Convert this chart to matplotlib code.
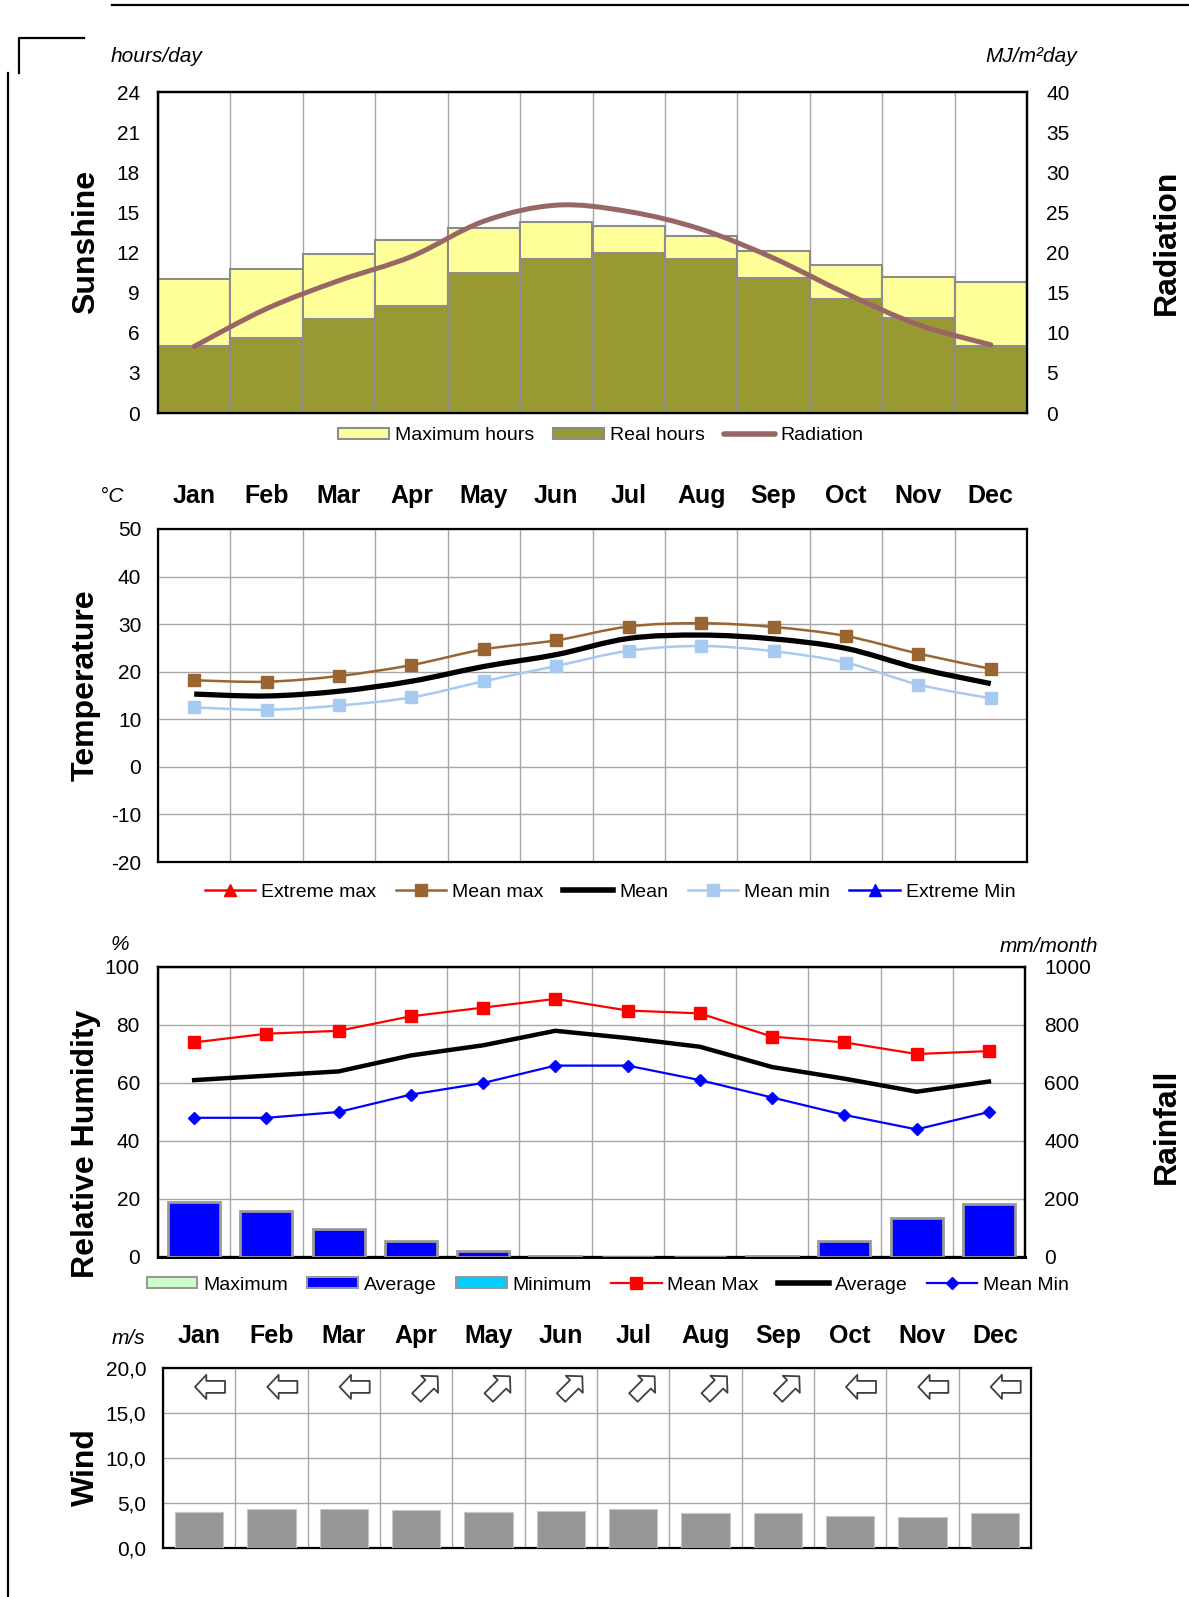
import numpy as np
import matplotlib
matplotlib.use('Agg')
import matplotlib.pyplot as plt
from matplotlib.path import Path
from matplotlib.patches import PathPatch, Patch, FancyArrowPatch
from matplotlib.lines import Line2D
from matplotlib.transforms import IdentityTransform

plt.rcParams['font.family'] = ['Liberation Sans', 'DejaVu Sans']
plt.rcParams['axes.unicode_minus'] = False

# ---------------- data ----------------
months = ['Jan', 'Feb', 'Mar', 'Apr', 'May', 'Jun', 'Jul', 'Aug', 'Sep', 'Oct', 'Nov', 'Dec']

max_hours = [10.0, 10.8, 11.9, 12.9, 13.8, 14.3, 14.0, 13.2, 12.1, 11.1, 10.2, 9.8]
real_hours = [5.0, 5.6, 7.0, 8.0, 10.5, 11.5, 12.0, 11.5, 10.1, 8.5, 7.1, 5.0]
radiation = [8.3, 13.0, 16.5, 19.5, 23.9, 25.9, 25.1, 22.9, 19.3, 14.9, 11.0, 8.5]

temp_mean_max = [18.2, 17.9, 19.1, 21.4, 24.7, 26.6, 29.5, 30.2, 29.4, 27.5, 23.8, 20.6]
temp_mean = [15.3, 14.9, 15.9, 18.0, 21.1, 23.6, 27.0, 27.7, 26.9, 24.9, 20.7, 17.5]
temp_mean_min = [12.5, 12.0, 12.9, 14.6, 18.0, 21.2, 24.4, 25.4, 24.3, 21.9, 17.3, 14.4]

hum_mean_max = [74, 77, 78, 83, 86, 89, 85, 84, 76, 74, 70, 71]
hum_average = [61, 62.5, 64, 69.5, 73, 78, 75.5, 72.5, 65.5, 61.5, 57, 60.5]
hum_mean_min = [48, 48, 50, 56, 60, 66, 66, 61, 55, 49, 44, 50]
rain_average = [190, 158, 95, 56, 19, 4, 0, 0, 5, 54, 133, 184]

wind_speed = [4.0, 4.3, 4.3, 4.2, 4.0, 4.1, 4.3, 3.9, 3.9, 3.6, 3.5, 3.9]
wind_dir = ['W', 'W', 'W', 'NE', 'NE', 'NE', 'NE', 'NE', 'NE', 'W', 'W', 'W']

sun_left_ticks = [0, 3, 6, 9, 12, 15, 18, 21, 24]
sun_right_ticks = [0, 5, 10, 15, 20, 25, 30, 35, 40]
temp_ticks = [-20, -10, 0, 10, 20, 30, 40, 50]
hum_ticks = [0, 20, 40, 60, 80, 100]
rain_ticks = [0, 200, 400, 600, 800, 1000]
wind_ticks = [0, 5, 10, 15, 20]

# ---------------- helpers ----------------
W, H = 1189, 1597
fig = plt.figure(figsize=(W / 100, H / 100), dpi=100)


def add_ax(l, t, r, b):
    return fig.add_axes([l / W, 1 - b / H, (r - l) / W, (b - t) / H])


def smooth_path(x, y):
    pts = np.column_stack([x, y]).astype(float)
    n = len(pts)
    verts = [pts[0]]
    codes = [Path.MOVETO]
    for i in range(n - 1):
        p0 = pts[i - 1] if i > 0 else pts[i]
        p1 = pts[i]
        p2 = pts[i + 1]
        p3 = pts[i + 2] if i + 2 < n else pts[i + 1]
        verts += [p1 + (p2 - p0) / 6, p2 - (p3 - p1) / 6, p2]
        codes += [Path.CURVE4] * 3
    return Path(verts, codes)


def style_frame(ax, lw=1.6):
    for s in ax.spines.values():
        s.set_linewidth(lw)
        s.set_color('black')
    ax.tick_params(length=0)


x = np.arange(12)
TICK_FS = 15
GRID_C = '#a6a6a6'

# ---------------- decorations ----------------
fig.add_artist(Line2D([112 / W, 1.0], [1 - 5 / H, 1 - 5 / H], transform=fig.transFigure, color='black', lw=1.6))
fig.add_artist(Line2D([8 / W, 8 / W], [1 - 73 / H, 0], transform=fig.transFigure, color='black', lw=1.6))
fig.add_artist(Line2D([18.5 / W, 18.5 / W, 83.5 / W], [1 - 73 / H, 1 - 38 / H, 1 - 38 / H],
                      transform=fig.transFigure, color='black', lw=1.6))

# ---------------- Sunshine ----------------
ax1 = add_ax(158, 92, 1027, 413)
ax1.bar(x, max_hours, width=1.0, color='#ffff99', edgecolor='#8c8c8c', linewidth=1.5, zorder=2)
ax1.bar(x, real_hours, width=1.0, color='#999933', edgecolor='#8c8c8c', linewidth=1.5, zorder=3)
ax1.set_xlim(-0.5, 11.5)
ax1.set_ylim(0, 24)
ax1.set_yticks(sun_left_ticks)
ax1.set_xticks(np.arange(-0.5, 12, 1))
ax1.set_xticklabels([])
ax1.grid(axis='x', color=GRID_C, lw=1.0, zorder=1)
ax1.set_axisbelow(True)
ax1.tick_params(axis='y', labelsize=TICK_FS, pad=13)
style_frame(ax1)
ax1b = ax1.twinx()
ax1b.set_ylim(0, 40)
ax1b.set_yticks(sun_right_ticks)
ax1b.tick_params(axis='y', labelsize=TICK_FS, pad=14, length=0)
ax1b.add_patch(PathPatch(smooth_path(x, radiation), fill=False, edgecolor='#996666', lw=3.6,
                         capstyle='round', zorder=5))
for s in ax1b.spines.values():
    s.set_linewidth(1.6)

fig.text(111 / W, 1 - 56 / H, 'hours/day', fontsize=15, style='italic', ha='left', va='center')
fig.text(1077 / W, 1 - 56 / H, 'MJ/m²day', fontsize=15, style='italic', ha='right', va='center')
fig.text(86 / W, 1 - 242 / H, 'Sunshine', fontsize=23, fontweight='bold', rotation=90, ha='center', va='center')
fig.text(1167 / W, 1 - 242 / H, 'Radiation', fontsize=23, fontweight='bold', rotation=90, ha='center', va='center')

h_sun = [Patch(facecolor='#ffff99', edgecolor='#8c8c8c', lw=1.5, label='Maximum hours'),
         Patch(facecolor='#999933', edgecolor='#8c8c8c', lw=1.5, label='Real hours'),
         Line2D([], [], color='#996666', lw=4, solid_capstyle='round', label='Radiation')]
fig.legend(handles=h_sun, loc='center', bbox_to_anchor=(601 / W, 1 - 436 / H), ncol=3, frameon=False,
           fontsize=14, handlelength=2.6, handleheight=0.55, handletextpad=0.3, columnspacing=1.0)

# ---------------- Temperature ----------------
ax2 = add_ax(158, 529, 1027, 862)
ax2.set_xlim(-0.5, 11.5)
ax2.set_ylim(-20, 50)
ax2.set_yticks(temp_ticks)
ax2.set_xticks(np.arange(-0.5, 12, 1))
ax2.set_xticklabels([])
ax2.grid(True, color=GRID_C, lw=1.0, zorder=0)
ax2.set_axisbelow(True)
ax2.tick_params(axis='y', labelsize=TICK_FS, pad=12)
style_frame(ax2)
ax2.add_patch(PathPatch(smooth_path(x, temp_mean_max), fill=False, edgecolor='#996633', lw=1.8, zorder=3))
ax2.add_patch(PathPatch(smooth_path(x, temp_mean), fill=False, edgecolor='black', lw=3.8, zorder=4))
ax2.add_patch(PathPatch(smooth_path(x, temp_mean_min), fill=False, edgecolor='#a6caf0', lw=1.8, zorder=3))
ax2.plot(x, temp_mean_max, ls='none', marker='s', ms=9, color='#996633', zorder=5)
ax2.plot(x, temp_mean_min, ls='none', marker='s', ms=9, color='#a6caf0', zorder=5)
for i, m in enumerate(months):
    ax2.text(i, 1 + 33 / 333, m, transform=ax2.get_xaxis_transform(), fontsize=18, fontweight='bold',
             ha='center', va='center')
fig.text(100 / W, 1 - 497 / H, '°C', fontsize=15, style='italic', ha='left', va='center')
fig.text(86 / W, 1 - 685 / H, 'Temperature', fontsize=23, fontweight='bold', rotation=90, ha='center', va='center')

h_temp = [Line2D([], [], color='red', lw=1.8, marker='^', ms=9, label='Extreme max'),
          Line2D([], [], color='#996633', lw=1.8, marker='s', ms=9, label='Mean max'),
          Line2D([], [], color='black', lw=4, label='Mean'),
          Line2D([], [], color='#a6caf0', lw=1.8, marker='s', ms=9, label='Mean min'),
          Line2D([], [], color='blue', lw=1.8, marker='^', ms=9, label='Extreme Min')]
fig.legend(handles=h_temp, loc='center', bbox_to_anchor=(610 / W, 1 - 892 / H), ncol=5, frameon=False,
           fontsize=14, handlelength=2.6, handletextpad=0.3, columnspacing=1.0, numpoints=1)

# ---------------- Humidity / Rainfall ----------------
ax3 = add_ax(158, 967, 1025, 1257)
ax3.set_xlim(-0.5, 11.5)
ax3.set_ylim(0, 100)
ax3.set_yticks(hum_ticks)
ax3.set_xticks(np.arange(-0.5, 12, 1))
ax3.set_xticklabels([])
ax3.grid(True, color=GRID_C, lw=1.0, zorder=0)
ax3.set_axisbelow(True)
ax3.tick_params(axis='y', labelsize=TICK_FS, pad=13)
style_frame(ax3)
ax3.plot(x, hum_mean_max, color='red', lw=1.6, marker='s', ms=8, zorder=4)
ax3.plot(x, hum_average, color='black', lw=3.2, zorder=4)
ax3.plot(x, hum_mean_min, color='blue', lw=1.6, marker='D', ms=6.5, zorder=4)
ax3b = ax3.twinx()
ax3b.set_ylim(0, 1000)
ax3b.set_yticks(rain_ticks)
ax3b.tick_params(axis='y', labelsize=TICK_FS, pad=14, length=0)
ax3b.bar(x, rain_average, width=0.72, color='blue', edgecolor='#999999', linewidth=2.0, zorder=3)
for s in ax3b.spines.values():
    s.set_linewidth(1.6)
ax3b.spines['bottom'].set_linewidth(2.2)

fig.text(120 / W, 1 - 945 / H, '%', fontsize=15, style='italic', ha='center', va='center')
fig.text(1098 / W, 1 - 946 / H, 'mm/month', fontsize=15, style='italic', ha='right', va='center')
fig.text(86 / W, 1 - 1144 / H, 'Relative Humidity', fontsize=23, fontweight='bold', rotation=90,
         ha='center', va='center')
fig.text(1167 / W, 1 - 1126 / H, 'Rainfall', fontsize=23, fontweight='bold', rotation=90, ha='center', va='center')

h_hum = [Patch(facecolor='#ccffcc', edgecolor='#999999', lw=1.5, label='Maximum'),
         Patch(facecolor='blue', edgecolor='#999999', lw=1.5, label='Average'),
         Patch(facecolor='#00ccff', edgecolor='#999999', lw=1.5, label='Minimum'),
         Line2D([], [], color='red', lw=1.6, marker='s', ms=8, label='Mean Max'),
         Line2D([], [], color='black', lw=4, label='Average'),
         Line2D([], [], color='blue', lw=1.6, marker='D', ms=6.5, label='Mean Min')]
fig.legend(handles=h_hum, loc='center', bbox_to_anchor=(608 / W, 1 - 1285 / H), ncol=6, frameon=False,
           fontsize=14, handlelength=2.6, handleheight=0.55, handletextpad=0.3, columnspacing=1.0, numpoints=1)

# ---------------- Wind ----------------
ax4 = add_ax(163, 1368, 1031, 1548)
ax4.set_xlim(-0.5, 11.5)
ax4.set_ylim(0, 20)
ax4.set_yticks(wind_ticks)
ax4.set_yticklabels([f'{v:.1f}'.replace('.', ',') for v in wind_ticks])
ax4.set_xticks(np.arange(-0.5, 12, 1))
ax4.set_xticklabels([])
ax4.grid(True, color=GRID_C, lw=1.0, zorder=0)
ax4.set_axisbelow(True)
ax4.tick_params(axis='y', labelsize=TICK_FS, pad=12)
style_frame(ax4)
ax4.bar(x, wind_speed, width=0.67, color='#969696', edgecolor='#c8c8c8', linewidth=0.8, zorder=3)

# hollow direction arrows (pointing where drawn in the original)
dir_vec = {'W': (-1.0, 0.0), 'NE': (np.sqrt(0.5), np.sqrt(0.5))}
half_len = 15.0  # pixels
for i, d in enumerate(wind_dir):
    cx, cy = ax4.transData.transform((i + 0.15, 17.9))
    ux, uy = dir_vec[d]
    arr = FancyArrowPatch((cx - ux * half_len, cy - uy * half_len), (cx + ux * half_len, cy + uy * half_len),
                          arrowstyle='simple,head_length=0.47,head_width=1.0,tail_width=0.5',
                          mutation_scale=17.3, shrinkA=0, shrinkB=0, transform=IdentityTransform(),
                          facecolor='white', edgecolor='#404040', lw=1.3, zorder=6, clip_on=False)
    ax4.add_artist(arr)

for i, m in enumerate(months):
    ax4.text(i, 1 + 32 / 180, m, transform=ax4.get_xaxis_transform(), fontsize=18, fontweight='bold',
             ha='center', va='center')
fig.text(112 / W, 1 - 1339 / H, 'm/s', fontsize=15, style='italic', ha='left', va='center')
fig.text(86 / W, 1 - 1467 / H, 'Wind', fontsize=23, fontweight='bold', rotation=90, ha='center', va='center')

fig.savefig('out.png', dpi=100)
